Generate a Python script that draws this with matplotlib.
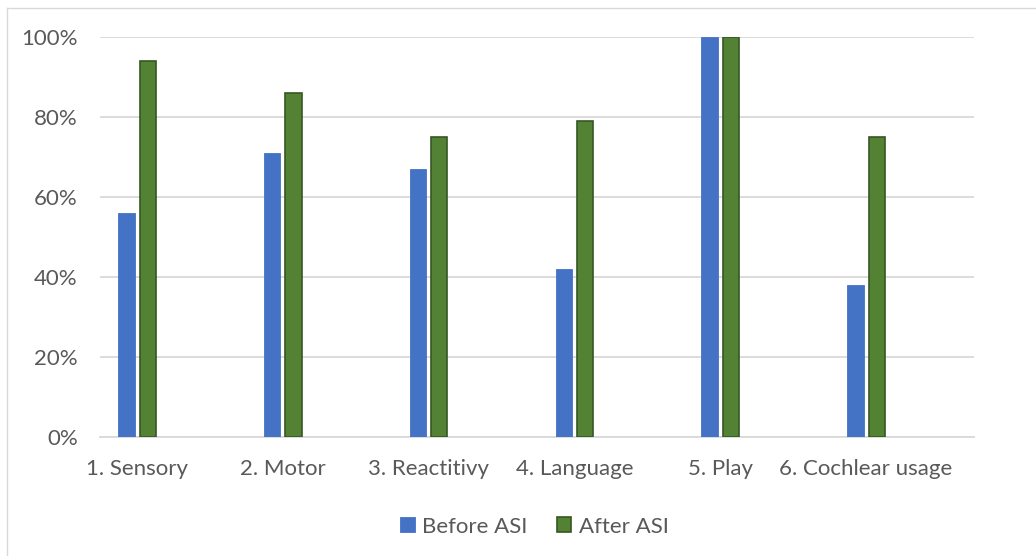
import matplotlib.pyplot as plt
import matplotlib.lines as mlines
import numpy as np
from matplotlib.ticker import FuncFormatter

categories = ['1. Sensory', '2. Motor', '3. Reactitivy', '4. Language', '5. Play', '6. Cochlear usage']
before_asi = [56, 71, 67, 42, 100, 38]
after_asi = [94, 86, 75, 79, 100, 75]

plt.rcParams['font.family'] = ['Lato', 'DejaVu Sans']

fig = plt.figure(figsize=(10.36, 5.56), dpi=100)
ax = fig.add_axes([100 / 1036, 119.3 / 556, 874 / 1036, 400 / 556])

x = np.arange(len(categories))
w = 0.112
off = 0.073
ax.bar(x - off, before_asi, width=w, color='#4472C4', edgecolor='#4472C4',
       linewidth=0.6, label='Before ASI', zorder=3)
ax.bar(x + off, after_asi, width=w, color='#548235', edgecolor='#375623',
       linewidth=1.2, label='After ASI', zorder=3)

ax.set_xlim(-0.254, 5.74)
ax.set_ylim(0, 100)
ax.set_yticks(range(0, 101, 20))
ax.yaxis.set_major_formatter(FuncFormatter(lambda v, p: f'{int(v)}%'))
ax.set_xticks(x)
ax.set_xticklabels(categories)
ax.grid(axis='y', color='#D9D9D9', linewidth=1.3, zorder=0)
for s in ['top', 'right', 'left']:
    ax.spines[s].set_visible(False)
ax.spines['bottom'].set_color('#D9D9D9')
ax.spines['bottom'].set_linewidth(1.3)
ax.tick_params(axis='both', length=0, labelsize=16, colors='#595959')
ax.tick_params(axis='y', pad=16)
ax.tick_params(axis='x', pad=16)

ax.legend(loc='upper center', bbox_to_anchor=(0.497, -0.15), ncol=2, frameon=False,
          fontsize=16, labelcolor='#595959', handlelength=0.65, handleheight=0.65,
          handletextpad=0.35, columnspacing=1.3)

# outer chart border (only left/top edges visible)
fig.add_artist(mlines.Line2D([6.5 / 1036, 6.5 / 1036], [0, 1 - 7.5 / 556],
                             color='#D9D9D9', linewidth=1, transform=fig.transFigure))
fig.add_artist(mlines.Line2D([6.5 / 1036, 1], [1 - 7.5 / 556, 1 - 7.5 / 556],
                             color='#D9D9D9', linewidth=1, transform=fig.transFigure))

plt.savefig('out.png', dpi=100)
